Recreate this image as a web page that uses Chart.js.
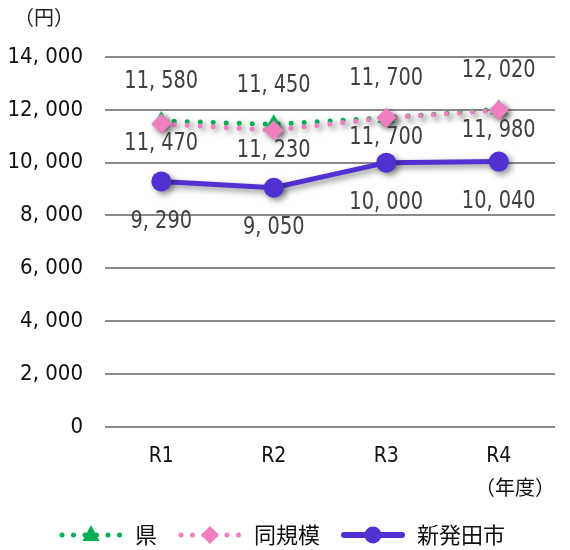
<!DOCTYPE html>
<html lang="ja">
<head>
<meta charset="utf-8">
<script src="https://cdn.jsdelivr.net/npm/chart.js@4/dist/chart.umd.min.js"></script>
<style>
  html, body { margin: 0; padding: 0; background: #fff; }
  #wrap { width: 570px; height: 550px; position: relative; }
</style>
</head>
<body>
<div id="wrap"><canvas id="c" width="570" height="550"></canvas></div>
<script>
// 年度
const categories = ['R1', 'R2', 'R3', 'R4'];
// 県
const kenValues = [11580, 11450, 11700, 12020];
// 同規模
const doukiboValues = [11470, 11230, 11700, 11980];
// 新発田市
const shibataValues = [9290, 9050, 10000, 10040];
// 縦軸目盛
const yTicks = [0, 2000, 4000, 6000, 8000, 10000, 12000, 14000];

const NUM_FONT = '"DejaVu Sans Condensed", "Liberation Sans", sans-serif';
const JP_FONT = '"Noto Sans CJK JP", "Noto Sans", sans-serif';

const GREEN = '#00b050';
const PINK = '#f07fc2';
const PURPLE = '#5230d2';

function fmt(v) {
  return v.toLocaleString('en-US').replace(/,/g, ', ');
}

// 凡例用の線＋マーカー画像
function legendSwatch(color, dotted, marker) {
  const w = 66, h = 24;
  const cv = document.createElement('canvas');
  cv.width = w; cv.height = h;
  const g = cv.getContext('2d');
  const cy = h / 2;
  g.strokeStyle = color;
  g.fillStyle = color;
  g.lineCap = 'round';
  if (dotted) {
    g.lineWidth = 5;
    g.setLineDash([0, 11.5]);
  } else {
    g.lineWidth = 6;
  }
  g.beginPath();
  g.moveTo(4, cy);
  g.lineTo(w - 4, cy);
  g.stroke();
  g.setLineDash([]);
  const cx = w / 2;
  g.beginPath();
  if (marker === 'triangle') {
    g.moveTo(cx, cy - 10);
    g.lineTo(cx + 8.5, cy + 6);
    g.lineTo(cx - 8.5, cy + 6);
    g.closePath();
  } else if (marker === 'diamond') {
    g.moveTo(cx, cy - 9);
    g.lineTo(cx + 9, cy);
    g.lineTo(cx, cy + 9);
    g.lineTo(cx - 9, cy);
    g.closePath();
  } else {
    g.arc(cx, cy, 8.5, 0, Math.PI * 2);
  }
  g.fill();
  return cv;
}

const swatches = [
  legendSwatch(GREEN, true, 'triangle'),
  legendSwatch(PINK, true, 'diamond'),
  legendSwatch(PURPLE, false, 'circle')
];

// データ点の影
const shadowPlugin = {
  id: 'markerShadow',
  beforeDatasetDraw(chart) {
    const ctx = chart.ctx;
    ctx.save();
    ctx.shadowColor = 'rgba(0,0,0,0.45)';
    ctx.shadowBlur = 6;
    ctx.shadowOffsetX = 3;
    ctx.shadowOffsetY = 3;
  },
  afterDatasetDraw(chart) {
    chart.ctx.restore();
  }
};

// 数値ラベル（各点の上下、縦長の字形）
const valueLabelPlugin = {
  id: 'valueLabels',
  afterDatasetsDraw(chart) {
    const ctx = chart.ctx;
    chart.data.datasets.forEach((ds, i) => {
      const meta = chart.getDatasetMeta(i);
      meta.data.forEach((pt, j) => {
        ctx.save();
        ctx.translate(pt.x, pt.y + ds.labelOffset);
        ctx.scale(0.86, 1);
        ctx.font = '25px ' + NUM_FONT;
        ctx.fillStyle = '#404040';
        ctx.textAlign = 'center';
        ctx.textBaseline = 'middle';
        ctx.fillText(fmt(ds.data[j]), 0, 0);
        ctx.restore();
      });
    });
  }
};

// 縦軸の単位
const unitPlugin = {
  id: 'unitLabel',
  afterDraw(chart) {
    const ctx = chart.ctx;
    ctx.save();
    ctx.font = '20px ' + JP_FONT;
    ctx.fillStyle = '#222';
    ctx.textAlign = 'left';
    ctx.textBaseline = 'middle';
    ctx.fillText('（円）', 14, 17);
    ctx.restore();
  }
};

new Chart(document.getElementById('c'), {
  type: 'line',
  data: {
    labels: categories,
    datasets: [
      {
        label: '県',
        data: kenValues,
        borderColor: GREEN,
        backgroundColor: GREEN,
        borderWidth: 5,
        borderDash: [0, 13],
        borderCapStyle: 'round',
        pointStyle: 'triangle',
        pointRadius: 10,
        pointBorderWidth: 0,
        pointBackgroundColor: GREEN,
        order: 2,
        labelOffset: -39
      },
      {
        label: '同規模',
        data: doukiboValues,
        borderColor: PINK,
        backgroundColor: PINK,
        borderWidth: 5,
        borderDash: [0, 13],
        borderCapStyle: 'round',
        pointStyle: 'rectRot',
        pointRadius: 10,
        pointBorderWidth: 0,
        pointBackgroundColor: PINK,
        order: 1,
        labelOffset: 20
      },
      {
        label: '新発田市',
        data: shibataValues,
        borderColor: PURPLE,
        backgroundColor: PURPLE,
        borderWidth: 5,
        pointStyle: 'circle',
        pointRadius: 10,
        pointBorderWidth: 0,
        pointBackgroundColor: PURPLE,
        order: 0,
        labelOffset: 40
      }
    ]
  },
  options: {
    responsive: false,
    animation: false,
    devicePixelRatio: 1,
    layout: { padding: { top: 57, right: 15, left: 8, bottom: -6 } },
    plugins: {
      tooltip: { enabled: false },
      legend: {
        position: 'bottom',
        labels: {
          usePointStyle: true,
          pointStyleWidth: 66,
          boxHeight: 22,
          padding: 20,
          color: '#111',
          font: { family: JP_FONT, size: 22 },
          generateLabels(chart) {
            return chart.data.datasets.map((ds, i) => ({
              text: ds.label,
              pointStyle: swatches[i],
              fillStyle: ds.borderColor,
              strokeStyle: ds.borderColor,
              lineWidth: 0,
              hidden: false,
              datasetIndex: i,
              fontColor: '#111'
            }));
          }
        }
      }
    },
    scales: {
      x: {
        offset: true,
        grid: { display: false, drawTicks: false },
        border: { display: false },
        afterFit(scale) {
          scale.height -= 11;
        },
        ticks: {
          color: '#111',
          padding: 17,
          font: { family: NUM_FONT, size: 21 }
        },
        title: {
          display: true,
          text: '（年度）',
          align: 'end',
          color: '#111',
          padding: { top: 0, bottom: 5 },
          font: { family: JP_FONT, size: 20 }
        }
      },
      y: {
        min: 0,
        max: 14000,
        afterBuildTicks(scale) {
          scale.ticks = yTicks.map(v => ({ value: v }));
        },
        afterFit(scale) {
          scale.width = 97;
        },
        grid: {
          color: '#8a8a8a',
          lineWidth: 2,
          tickLength: 0,
          drawTicks: false
        },
        border: { display: false },
        ticks: {
          color: '#111',
          padding: 22,
          font: { family: NUM_FONT, size: 22 },
          callback: v => fmt(v)
        }
      }
    }
  },
  plugins: [shadowPlugin, valueLabelPlugin, unitPlugin]
});
</script>
</body>
</html>
